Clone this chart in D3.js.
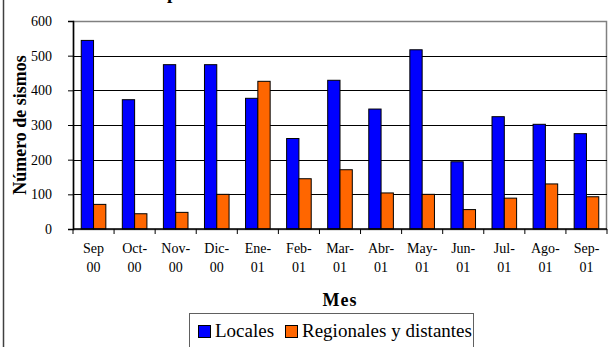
<!DOCTYPE html>
<html>
<head>
<meta charset="utf-8">
<script src="https://d3js.org/d3.v7.min.js"></script>
<style>
body { margin: 0; background: #fff; }
svg { display: block; }
svg text { font-family: "Liberation Serif", "Times New Roman", serif; }
</style>
</head>
<body>
<div id="chart"></div>
<script>
// datos
var mesLinea1 = ["Sep", "Oct-", "Nov-", "Dic-", "Ene-", "Feb-", "Mar-", "Abr-", "May-", "Jun-", "Jul-", "Ago-", "Sep-"];
var mesLinea2 = ["00", "00", "00", "00", "01", "01", "01", "01", "01", "01", "01", "01", "01"];
var locales = [544, 373, 474, 474, 377, 261, 429, 346, 517, 194, 324, 302, 275];
var regionales = [71, 44, 48, 100, 426, 145, 171, 104, 100, 56, 89, 130, 93];
var series = ["Locales", "Regionales y distantes"];
var colores = ["#0000ff", "#ff6600"];
var yTicks = [0, 100, 200, 300, 400, 500, 600];

var width = 609, height = 347;
var mIzq = 73, mDer = 607, mSup = 21, mInf = 229;
var fuente = "Liberation Serif, Times New Roman, serif";

var svg = d3.select("#chart").append("svg").attr("width", width).attr("height", height)
	.attr("font-family", fuente);

// borde exterior (solo se ve el lado izquierdo)
svg.append("rect").attr("x", 3.5).attr("y", -20).attr("width", 700).attr("height", 420)
	.attr("fill", "none").attr("stroke", "#404040").attr("stroke-width", 1.5);

// titulo, casi todo fuera de la imagen
svg.append("text").attr("x", 328).attr("y", -1).attr("text-anchor", "middle")
	.attr("font-weight", "bold").attr("font-size", 19)
	.text("por mes durante los últimos trece meses");

var idx = d3.range(mesLinea1.length);
var x0 = d3.scaleBand().domain(idx).range([mIzq, mDer]);
var x1 = d3.scaleBand().domain(series).range([0, x0.bandwidth()]).paddingOuter(0.67).paddingInner(0);
var y = d3.scaleLinear().domain([0, 600]).range([mInf, mSup]);

// area de trazado
svg.append("rect").attr("x", mIzq + 0.5).attr("y", mSup + 0.5)
	.attr("width", mDer - mIzq - 1).attr("height", mInf - mSup)
	.attr("fill", "#fff").attr("stroke", "#808080").attr("stroke-width", 1.5);

// lineas de division
svg.append("g").selectAll("line").data(yTicks.slice(1, 6)).join("line")
	.attr("x1", mIzq).attr("x2", mDer)
	.attr("y1", function(d) { return Math.round(y(d)) + 0.5; })
	.attr("y2", function(d) { return Math.round(y(d)) + 0.5; })
	.attr("stroke", "#000").attr("stroke-width", 1);

// barras
var datos = [locales, regionales];
var grupo = svg.append("g").selectAll("g").data(idx).join("g")
	.attr("transform", function(i) { return "translate(" + x0(i) + ",0)"; });
grupo.selectAll("rect").data(function(i) {
		return series.map(function(s, k) { return { s: s, k: k, v: datos[k][i] }; });
	}).join("rect")
	.attr("x", function(d) { return x1(d.s); })
	.attr("width", x1.bandwidth())
	.attr("y", function(d) { return y(d.v); })
	.attr("height", function(d) { return y(0) - y(d.v); })
	.attr("fill", function(d) { return colores[d.k]; })
	.attr("stroke", "#000").attr("stroke-width", 1);

// eje y
var yAxis = svg.append("g").attr("transform", "translate(" + mIzq + ",0)")
	.call(d3.axisLeft(y).tickValues(yTicks).tickSize(5).tickPadding(16).tickFormat(d3.format("d")))
	.attr("font-family", fuente).attr("font-size", 14);
yAxis.select(".domain").attr("stroke", "#000").attr("stroke-width", 1.5);
yAxis.selectAll("text").attr("fill", "#000");

// eje x con marcas entre categorias
var xAxis = svg.append("g").attr("transform", "translate(0," + mInf + ")");
xAxis.append("line").attr("x1", mIzq).attr("x2", mDer).attr("stroke", "#000").attr("stroke-width", 1.5);
xAxis.selectAll("line.t").data(d3.range(mesLinea1.length + 1)).join("line").attr("class", "t")
	.attr("x1", function(i) { return mIzq + i * x0.step(); })
	.attr("x2", function(i) { return mIzq + i * x0.step(); })
	.attr("y1", 0).attr("y2", 5).attr("stroke", "#000");
var etq = xAxis.selectAll("text").data(idx).join("text")
	.attr("text-anchor", "middle").attr("font-size", 14)
	.attr("transform", function(i) { return "translate(" + (x0(i) + x0.bandwidth() / 2) + ",0)"; });
etq.append("tspan").attr("x", 0).attr("y", 24).text(function(i) { return mesLinea1[i]; });
etq.append("tspan").attr("x", 0).attr("y", 43).text(function(i) { return mesLinea2[i]; });

// titulos de ejes
svg.append("text").attr("x", 340).attr("y", 306).attr("text-anchor", "middle")
	.attr("font-weight", "bold").attr("font-size", 18).attr("letter-spacing", 1).text("Mes");
svg.append("text").attr("transform", "translate(26,125) rotate(-90)").attr("text-anchor", "middle")
	.attr("font-weight", "bold").attr("font-size", 18).text("Número de sismos");

// leyenda
var leg = svg.append("g");
leg.append("rect").attr("x", 189.5).attr("y", 313.5).attr("width", 284).attr("height", 60)
	.attr("fill", "#fff").attr("stroke", "#606060");
var pos = [198, 285];
series.forEach(function(s, k) {
	leg.append("rect").attr("x", pos[k] + 0.5).attr("y", 325.5).attr("width", 12).attr("height", 12)
		.attr("fill", colores[k]).attr("stroke", "#000");
	leg.append("text").attr("x", pos[k] + 17).attr("y", 337).attr("font-size", 19).text(s);
});
</script>
</body>
</html>
